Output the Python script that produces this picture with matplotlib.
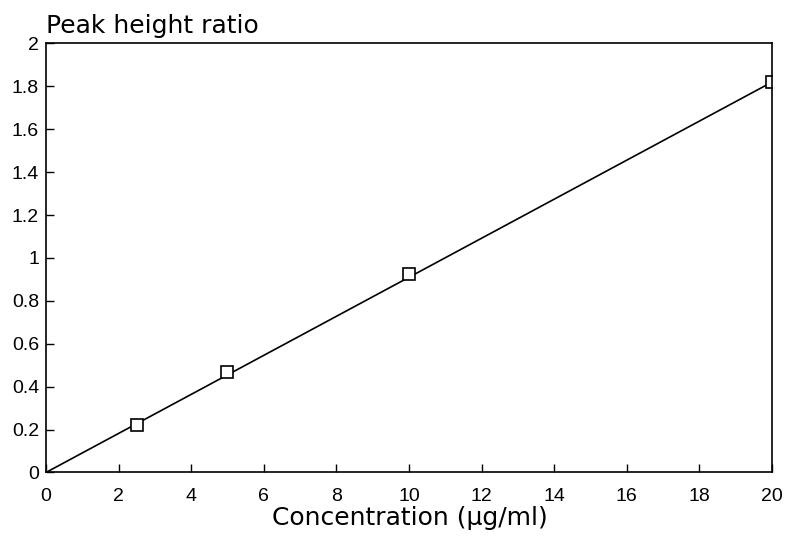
import matplotlib.pyplot as plt

plt.rcParams['font.family'] = ['Liberation Sans', 'DejaVu Sans']

# measured points
conc = [2.5, 5, 10, 20]
ratio = [0.22, 0.47, 0.925, 1.82]

# calibration line
line_x = [0, 20]
line_y = [0, 1.82]

x_ticks = [0, 2, 4, 6, 8, 10, 12, 14, 16, 18, 20]
y_ticks = [0, 0.2, 0.4, 0.6, 0.8, 1, 1.2, 1.4, 1.6, 1.8, 2]
y_labels = ['0', '0.2', '0.4', '0.6', '0.8', '1', '1.2', '1.4', '1.6', '1.8', '2']

fig = plt.figure(figsize=(7.87, 5.36), dpi=100)
ax = fig.add_axes([0.0584, 0.1185, 0.9225, 0.8004])

ax.plot(line_x, line_y, color='k', lw=1.2)
ax.plot(conc, ratio, linestyle='none', marker='s', markersize=8.5,
        markerfacecolor='white', markeredgecolor='k', markeredgewidth=1.2)

ax.set_xlim(0, 20)
ax.set_ylim(0, 2)
ax.set_xticks(x_ticks)
ax.set_yticks(y_ticks)
ax.set_yticklabels(y_labels)
ax.tick_params(direction='in', length=6, width=1, labelsize=14,
               top=False, right=False)
ax.tick_params(axis='x', pad=11)
ax.tick_params(axis='y', pad=5)
for s in ax.spines.values():
    s.set_linewidth(1.2)

fig.text(0.521, 0.02, 'Concentration (\u00b5g/ml)', fontsize=18,
         family='DejaVu Sans', ha='center', va='baseline')
fig.text(0.0584, 0.9384, 'Peak height ratio', fontsize=18,
         family='DejaVu Sans', ha='left', va='baseline')

plt.savefig('out.png', dpi=100)
